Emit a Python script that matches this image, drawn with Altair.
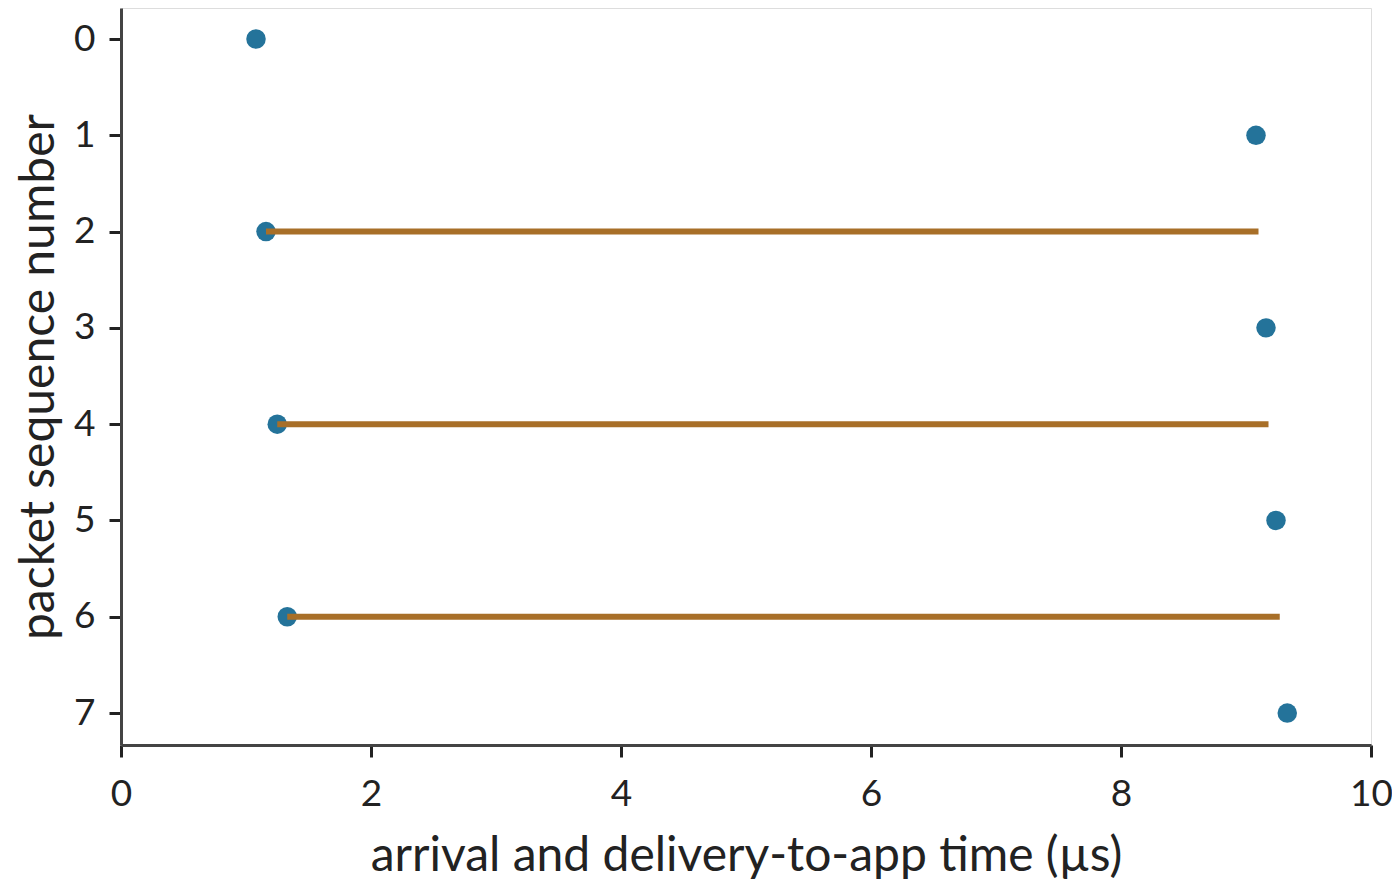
import altair as alt
import pandas as pd

seq = [0, 1, 2, 3, 4, 5, 6, 7]
arrival = [1.08, 9.08, 1.16, 9.16, 1.25, 9.24, 1.33, 9.33]

wait_seq = [2, 4, 6]
wait_start = [1.16, 1.25, 1.33]
wait_end = [9.10, 9.18, 9.27]

pts = pd.DataFrame({"seq": seq, "t": arrival})
rules = pd.DataFrame({"seq": wait_seq, "t": wait_start, "t2": wait_end})

FONT = "Lato"

xscale = alt.Scale(domain=[0, 10], nice=False, zero=False)
yscale = alt.Scale(domain=[-0.322, 7.332], nice=False, zero=False, reverse=True)

xaxis = alt.Axis(
    title="arrival and delivery-to-app time (µs)",
    values=[0, 2, 4, 6, 8, 10], grid=False, format="d", labelFlush=False,
    tickSize=12, tickWidth=3, tickColor="#222222",
    domainColor="#444444", domainWidth=3,
    labelFontSize=37, labelColor="#222222", labelPadding=19, labelFont=FONT,
    titleFontSize=48, titleFontWeight="normal", titleColor="#222222",
    titleFont=FONT, titlePadding=20,
)
yaxis = alt.Axis(
    title="packet sequence number",
    values=seq, grid=False, format="d", labelFlush=False,
    tickSize=12, tickWidth=3, tickColor="#222222",
    domainColor="#444444", domainWidth=3,
    labelFontSize=37, labelColor="#222222", labelPadding=14, labelFont=FONT,
    titleFontSize=48, titleFontWeight="normal", titleColor="#222222",
    titleFont=FONT, titlePadding=10,
)

points = alt.Chart(pts).mark_circle(size=380, opacity=1, color="#24739a").encode(
    x=alt.X("t:Q", scale=xscale, axis=xaxis),
    y=alt.Y("seq:Q", scale=yscale, axis=yaxis),
)

lines = alt.Chart(rules).mark_rule(strokeWidth=6, color="#a86f28").encode(
    x=alt.X("t:Q", scale=xscale),
    x2="t2:Q",
    y=alt.Y("seq:Q", scale=yscale),
)

chart = alt.layer(points, lines).properties(
    width=1250, height=737,
    autosize=alt.AutoSizeParams(type="none"),
    padding={"left": 113, "top": 0, "right": 21, "bottom": 135},
).configure_view(stroke=None).configure(background="white")

chart.save("out.html", embed_options={"renderer": "svg", "actions": False})
